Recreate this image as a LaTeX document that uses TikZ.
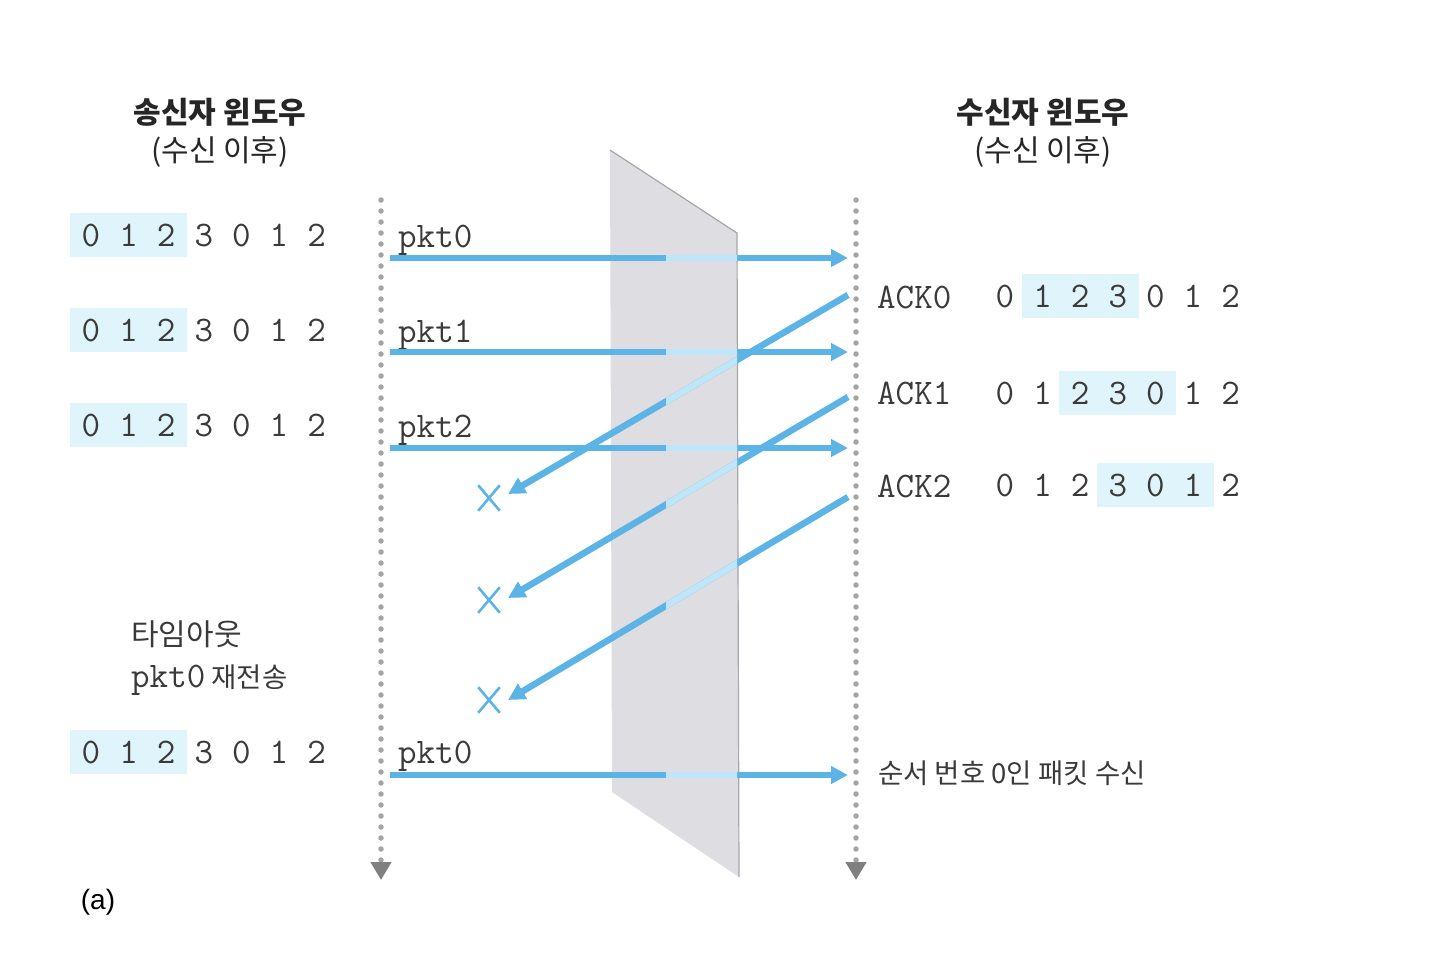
\documentclass[tikz,border=0pt]{standalone}
\usepackage{fontspec}
\setmainfont{Noto Sans CJK KR}
\newfontfamily\sansa{Liberation Sans}
\usepackage{tikz}
\usetikzlibrary{positioning, arrows.meta, shapes.misc, calc}
\definecolor{blu}{HTML}{5BB4E5}
\definecolor{chiaro}{HTML}{BFE6F8}
\definecolor{evid}{HTML}{E0F5FB}
\definecolor{lastracol}{HTML}{DDDDE2}
\definecolor{bordolastra}{HTML}{A6A6AC}
\definecolor{puntini}{HTML}{A4A4A4}
\definecolor{testo}{HTML}{3A3A3A}
\tikzset{
	% linea del tempo (puntinata)
	tempo/.style={line width=5.5pt, puntini, line cap=round, dash pattern=on 0pt off 11pt,
	              -{Triangle[length=18pt, width=20pt, color=black!50]}},
	% pacchetto / riscontro
	freccia/.style={line width=6.5pt, blu, -{Triangle[length=17pt, width=17pt]}},
	% tratto chiaro dentro la lastra
	tratto/.style={line width=6.5pt, chiaro},
	% numeri di sequenza
	cifra/.style={inner sep=0pt, font=\fontsize{36}{40}\selectfont\ttfamily, text=testo},
	% etichette pkt / ACK
	etich/.style={inner sep=0pt, anchor=base west, font=\fontsize{36}{40}\selectfont\ttfamily, text=testo},
	titolo/.style={inner sep=0pt, align=center, font=\fontsize{30}{38}\selectfont, text=black!85},
	nota/.style={inner sep=0pt, anchor=west, font=\fontsize{27.5}{32}\selectfont, text=testo},
	% pacchetto perso
	perso/.style={draw=blu, cross out, line width=2.6pt, minimum width=19pt, minimum height=23pt, inner sep=0pt},
}
% finestra: nome, x prima cifra, y, inizio e fine evidenziazione
\newcommand{\finestra}[5]{%
	\fill[evid] ({#2+37.6*#4-21},{#3-22}) rectangle ({#2+37.6*#5+21},{#3+22});
	\foreach \c [count=\i from 0] in {0,1,2,3,0,1,2}
		\node[cifra] (#1-\i) at ({#2+37.6*\i},#3) {\c};
}

\begin{document}
\begin{tikzpicture}[x=1pt, y=-1pt]
	\useasboundingbox (0,0) rectangle (1438,970);

	% titoli
	\node[titolo] (tsx) at (220,133) {{\bfseries 송신자 윈도우}\\(수신 이후)};
	\node[titolo] (tdx) at (1043,133) {{\bfseries 수신자 윈도우}\\(수신 이후)};

	% lastra (canale)
	\fill[lastracol] (610,150) -- (737,233) -- (739,877) -- (612,792) -- cycle;
	\draw[bordolastra, line width=1.2pt] (610,150) -- (737,233) -- (739,877);

	% linee del tempo
	\coordinate (ts) at (381,200); \coordinate (tb) at (381,880);
	\coordinate (rs) at (856,200); \coordinate (rb) at (856,880);
	\draw[tempo] (ts) -- (tb);
	\draw[tempo] (rs) -- (rb);

	% finestre del mittente
	\finestra{ws0}{91}{235}{0}{2}
	\finestra{ws1}{91}{330}{0}{2}
	\finestra{ws2}{91}{425}{0}{2}
	\finestra{ws3}{91}{752}{0}{2}

	% finestre del ricevente
	\finestra{wr0}{1005}{296}{1}{3}
	\finestra{wr1}{1005}{393}{2}{4}
	\finestra{wr2}{1005}{485}{3}{5}

	% pacchetti
	\foreach \n/\y in {0/258,1/352,2/448,3/775} {
		\coordinate (s\n) at (390,\y);
		\coordinate (d\n) at (848,\y);
	}
	\node[etich] (p0) at (398,247) {pkt0};
	\node[etich] (p1) at (398,342) {pkt1};
	\node[etich] (p2) at (398,437) {pkt2};
	\node[etich] (p3) at (398,763) {pkt0};

	% riscontri persi
	\coordinate (a0) at (848,295);
	\coordinate (a1) at (848,397);
	\coordinate (a2) at (848,497);
	\coordinate (e0) at (508,494);
	\coordinate (e1) at (508,598);
	\coordinate (e2) at (508,700);
	\node[perso] (x0) at (489,498) {};
	\node[perso] (x1) at (489,600) {};
	\node[perso] (x2) at (489,700) {};
	\node[etich, anchor=west] (k0) at (877,297) {ACK0};
	\node[etich, anchor=west] (k1) at (877,393) {ACK1};
	\node[etich, anchor=west] (k2) at (877,486) {ACK2};

	\foreach \n in {0,1,2,3}
		\draw[freccia] (s\n) -- (d\n);
	\foreach \n in {0,1,2}
		\draw[freccia] (a\n) -- (e\n);

	% tratti chiari nella lastra
	\begin{scope}
		\clip (666,0) rectangle (737,1000);
		\foreach \n in {0,1,2,3}
			\draw[tratto] (s\n) -- (d\n);
		\foreach \n in {0,1,2}
			\draw[tratto] (a\n) -- (e\n);
	\end{scope}

	% note
	\node[nota, font=\fontsize{30}{32}\selectfont] (timeout) at (131,634) {타임아웃};
	\node[nota, anchor=base west] (ritx) at (131,687) {{\fontsize{36}{40}\selectfont\ttfamily pkt0} 재전송};
	\node[nota] (ricevuto) at (878,773) {순서 번호 0인 패킷 수신};
	\node[inner sep=0pt, font=\fontsize{28}{32}\selectfont\sansa, text=black] (lab) at (98,902) {(a)};
\end{tikzpicture}
\end{document}
